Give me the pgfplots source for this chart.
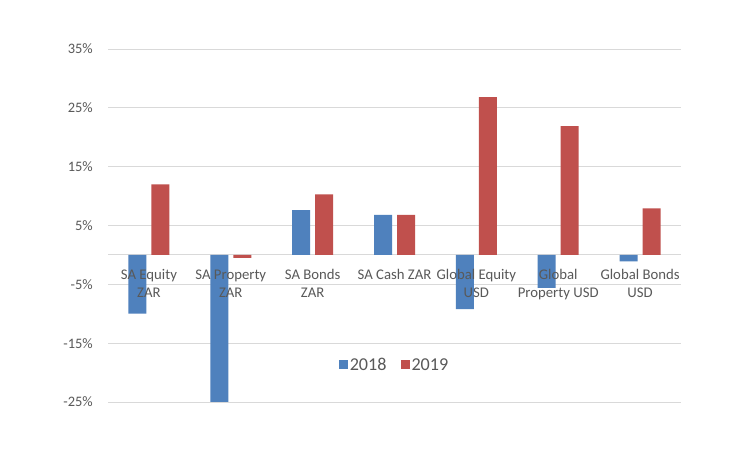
\documentclass[border=0pt]{standalone}
\usepackage{pgfplots}
\usepackage{pgfplotstable}
\pgfplotsset{compat=1.18}
\usepackage{fontspec}
\setmainfont{Carlito}
\definecolor{xblue}{HTML}{4F81BD}
\definecolor{xred}{HTML}{C0504D}
\definecolor{xgrid}{HTML}{D9D9D9}
\definecolor{xtext}{HTML}{595959}
\pgfplotstableread{
x y2018 y2019
0 -10 12
1 -25 -0.5
2 7.6 10.3
3 6.8 6.8
4 -9.2 26.8
5 -5.6 21.9
6 -1.1 7.9
}\datatable
\begin{document}
\begin{tikzpicture}[x=1bp,y=1bp]
\useasboundingbox[fill=white] (0,0) rectangle (752,452);
\begin{axis}[
  at={(108bp,50bp)}, anchor=south west,
  scale only axis, width=573bp, height=353bp,
  ymin=-25, ymax=35, ytick={-25,-15,...,35},
  xmin=-0.5, xmax=6.5, xtick=\empty,
  axis line style={draw=none},
  major tick length=0pt,
  ymajorgrids, grid style={xgrid, line width=0.9bp},
  extra y ticks={0}, extra y tick labels={}, extra y tick style={ymajorgrids=true},
  yticklabel={\pgfmathprintnumber{\tick}\%},
  /pgf/number format/assume math mode=true,
  yticklabel style={font=\fontsize{14.5}{17}\selectfont, text=xtext, inner sep=0pt, anchor=east, xshift=-15bp},
  ybar=5bp, bar width=18bp,
  legend style={at={(0.5,0.105)}, anchor=center, draw=none, fill=none, legend columns=2,
    font=\fontsize{18.2}{20}\selectfont, text=xtext,
    /tikz/every even column/.style={column sep=12bp}},
  legend image code/.code={\fill[#1] (0bp,-4.5bp) rectangle (9bp,4.5bp);},
  clip=false,
]
\addplot[fill=xblue, draw=none] table[x=x, y=y2018] {\datatable};
\addplot[fill=xred, draw=none] table[x=x, y=y2019] {\datatable};
\legend{2018,2019}
\tikzset{lbl/.style={align=center, anchor=base, inner sep=0pt, yshift=-42.2bp, text=xtext, font=\fontsize{14.8}{17.4}\selectfont}}
\node[lbl] at (axis cs:0,0) {SA Equity\\ZAR};
\node[lbl] at (axis cs:1,0) {SA Property\\ZAR};
\node[lbl] at (axis cs:2,0) {SA Bonds\\ZAR};
\node[lbl, yshift=17.4bp] at (axis cs:3,0) {SA Cash ZAR};
\node[lbl] at (axis cs:4,0) {Global Equity\\USD};
\node[lbl] at (axis cs:5,0) {Global\\Property USD};
\node[lbl] at (axis cs:6,0) {Global Bonds\\USD};
\end{axis}
\end{tikzpicture}
\end{document}
